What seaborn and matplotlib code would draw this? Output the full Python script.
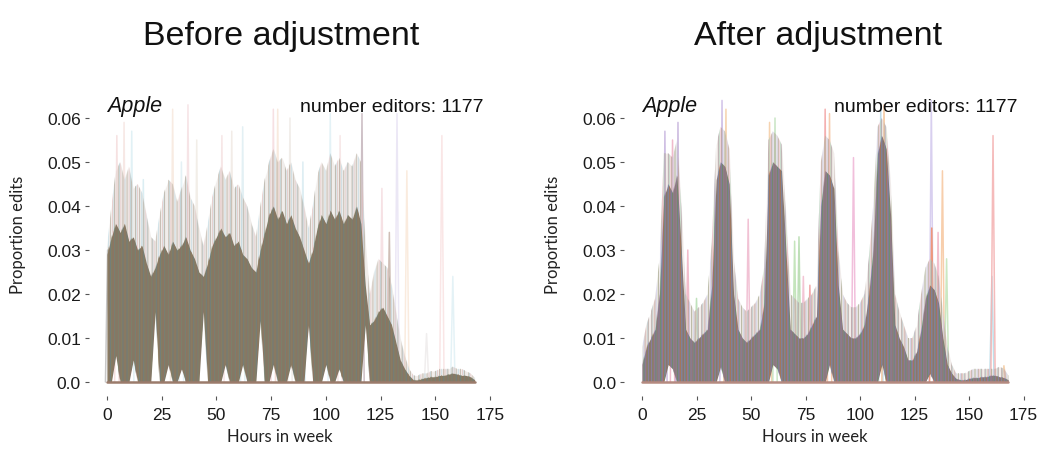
import matplotlib

matplotlib.use("Agg")
import matplotlib.pyplot as plt
import numpy as np
import pandas as pd
import seaborn as sns

W, H = 1047, 452

# hours in week, sampled every 2 hours (0 .. 168)
HOURS = np.arange(0, 170, 2)

# --- before adjustment -------------------------------------------------------
# top of the dense mass of editor lines
before_core = [
    0.029, 0.033, 0.036, 0.034, 0.036, 0.032, 0.033, 0.030, 0.031, 0.027,
    0.024, 0.026, 0.029, 0.031, 0.029, 0.032, 0.030, 0.031, 0.033, 0.030,
    0.028, 0.025, 0.024, 0.027, 0.031, 0.033, 0.035, 0.033, 0.034, 0.031,
    0.032, 0.029, 0.028, 0.026, 0.025, 0.030, 0.034, 0.038, 0.040, 0.037,
    0.039, 0.036, 0.038, 0.035, 0.033, 0.030, 0.027, 0.030, 0.035, 0.038,
    0.036, 0.039, 0.037, 0.039, 0.036, 0.038, 0.037, 0.040, 0.036, 0.022,
    0.013, 0.014, 0.016, 0.017, 0.015, 0.013, 0.009, 0.005, 0.003, 0.0015,
    0.0005, 0.0005, 0.0008, 0.001, 0.0012, 0.0012, 0.0015, 0.0015, 0.0018, 0.002,
    0.0018, 0.0015, 0.0015, 0.0012, 0.0005,
]
# top of the thinner, paler band above it
before_fringe = [
    0.031, 0.040, 0.048, 0.050, 0.046, 0.049, 0.044, 0.045, 0.043, 0.038,
    0.033, 0.032, 0.038, 0.043, 0.046, 0.045, 0.041, 0.044, 0.047, 0.042,
    0.040, 0.035, 0.031, 0.036, 0.042, 0.046, 0.049, 0.046, 0.048, 0.044,
    0.045, 0.042, 0.040, 0.036, 0.033, 0.040, 0.046, 0.050, 0.053, 0.050,
    0.051, 0.048, 0.050, 0.046, 0.044, 0.040, 0.035, 0.040, 0.047, 0.050,
    0.048, 0.052, 0.049, 0.051, 0.048, 0.050, 0.049, 0.052, 0.050, 0.032,
    0.020, 0.025, 0.028, 0.027, 0.026, 0.022, 0.016, 0.010, 0.006, 0.003,
    0.0015, 0.0015, 0.002, 0.002, 0.0025, 0.0025, 0.003, 0.003, 0.003, 0.0035,
    0.003, 0.003, 0.0025, 0.002, 0.001,
]
# lowest line value (white notches at the bottom)
before_floor = [
    0, 0, 0.006, 0, 0, 0, 0.005, 0, 0, 0,
    0, 0.016, 0, 0, 0.004, 0, 0, 0.003, 0, 0,
    0, 0, 0.016, 0, 0, 0, 0, 0.004, 0, 0,
    0, 0.004, 0, 0, 0, 0.014, 0, 0, 0.004, 0,
    0, 0, 0.004, 0, 0, 0, 0.013, 0, 0, 0,
    0.004, 0, 0, 0.003, 0, 0, 0, 0, 0, 0.013,
    0, 0, 0, 0, 0, 0, 0, 0, 0, 0,
    0, 0, 0, 0, 0, 0, 0, 0, 0, 0,
    0, 0, 0, 0, 0,
]
# single editors sticking out above the mass
before_spike_hours = [0.3, 4.5, 7.8, 11.3, 16.6, 30, 34, 37, 41, 52.5, 57, 62, 76, 78,
                      83.6, 89.5, 102, 106.5, 116.5, 125.6, 129, 132.5, 137, 146, 153, 158]
before_spike_heights = [0.030, 0.056, 0.059, 0.057, 0.046, 0.062, 0.050, 0.063, 0.055, 0.056,
                        0.057, 0.058, 0.062, 0.062, 0.060, 0.050, 0.061, 0.056, 0.061, 0.044,
                        0.034, 0.061, 0.048, 0.011, 0.056, 0.024]
before_spike_colors = ["#9a9a9a", "#efc9c9", "#f1d6d0", "#c9e6ee", "#bfe0ea", "#f3dccb",
                       "#cfe6ee", "#f0cfd3", "#e9e1d6", "#f0d2d2", "#e8ddd5", "#cde5ec",
                       "#f0c8cc", "#f3d9c4", "#e6dfd8", "#c3e0ea", "#cfe9f0", "#f1d5d5",
                       "#a48b96", "#efc9cf", "#a88a7a", "#dcd4ee", "#f6dcc4", "#e5e0e0",
                       "#f6d2d2", "#cfe8f0"]

# --- after adjustment --------------------------------------------------------
after_core = [
    0.004, 0.008, 0.010, 0.012, 0.020, 0.042, 0.045, 0.043, 0.047, 0.030,
    0.012, 0.010, 0.009, 0.010, 0.011, 0.012, 0.022, 0.046, 0.050, 0.049,
    0.045, 0.020, 0.012, 0.010, 0.009, 0.010, 0.011, 0.012, 0.018, 0.047,
    0.050, 0.049, 0.048, 0.030, 0.012, 0.011, 0.010, 0.010, 0.011, 0.013,
    0.015, 0.040, 0.048, 0.047, 0.044, 0.022, 0.012, 0.011, 0.010, 0.010,
    0.011, 0.013, 0.020, 0.030, 0.052, 0.056, 0.053, 0.038, 0.013, 0.010,
    0.008, 0.005, 0.005, 0.007, 0.012, 0.019, 0.022, 0.021, 0.018, 0.010,
    0.004, 0.002, 0.0008, 0.0005, 0.0005, 0.0008, 0.001, 0.001, 0.0012, 0.0012,
    0.0015, 0.0015, 0.0012, 0.001, 0.0005,
]
after_fringe = [
    0.008, 0.013, 0.016, 0.019, 0.028, 0.052, 0.052, 0.051, 0.055, 0.040,
    0.020, 0.018, 0.016, 0.017, 0.018, 0.020, 0.032, 0.054, 0.058, 0.057,
    0.053, 0.028, 0.019, 0.017, 0.016, 0.017, 0.018, 0.020, 0.026, 0.055,
    0.057, 0.056, 0.054, 0.038, 0.020, 0.019, 0.018, 0.018, 0.019, 0.020,
    0.022, 0.050, 0.056, 0.055, 0.052, 0.030, 0.020, 0.018, 0.017, 0.017,
    0.018, 0.020, 0.028, 0.040, 0.058, 0.060, 0.058, 0.045, 0.020, 0.016,
    0.013, 0.010, 0.010, 0.013, 0.020, 0.026, 0.028, 0.027, 0.024, 0.016,
    0.008, 0.004, 0.002, 0.002, 0.002, 0.0025, 0.003, 0.003, 0.003, 0.003,
    0.003, 0.003, 0.0035, 0.003, 0.0015,
]
after_floor = [
    0, 0, 0, 0, 0, 0, 0.004, 0.003, 0, 0,
    0, 0, 0, 0, 0, 0, 0, 0, 0.0035, 0,
    0, 0, 0, 0, 0, 0, 0, 0, 0, 0,
    0.004, 0.003, 0, 0, 0, 0, 0, 0, 0, 0,
    0, 0, 0, 0.004, 0, 0, 0, 0, 0, 0,
    0, 0, 0, 0, 0, 0.004, 0, 0, 0, 0,
    0, 0, 0, 0, 0, 0, 0.002, 0, 0, 0,
    0, 0, 0, 0, 0, 0, 0, 0, 0, 0,
    0, 0, 0, 0, 0,
]
after_spike_hours = [10.5, 14, 16.5, 21, 25, 36.7, 38.5, 48.7, 58.5, 61, 70, 72, 74, 77,
                     84, 86, 97, 109.5, 111, 132.7, 132.9, 135.8, 137.8, 139.7, 160.5, 161, 166]
after_spike_heights = [0.057, 0.055, 0.059, 0.030, 0.019, 0.064, 0.062, 0.037, 0.059, 0.060,
                       0.032, 0.033, 0.024, 0.022, 0.062, 0.061, 0.051, 0.062, 0.063, 0.064,
                       0.035, 0.034, 0.048, 0.028, 0.024, 0.056, 0.0037]
after_spike_colors = ["#c9b7e0", "#eeb3c6", "#c8b5dd", "#f2b6c6", "#b9dfb5", "#cdbde6",
                      "#f5d0a8", "#f0bcd0", "#f5cfa8", "#c5e3c0", "#bfe3b5", "#b7dcb0",
                      "#f2bfd0", "#f0a0a0", "#f3a8a8", "#f5c7a6", "#f0b8d8", "#b7d8e8",
                      "#f4c49a", "#d4caee", "#f08f6e", "#f2b8c8", "#f7c9a3", "#c6e6bc",
                      "#b8dce8", "#f4b4b4", "#f5cfa8"]

panels = [
    dict(title="Before adjustment", core=before_core, fringe=before_fringe,
         floor=before_floor, spike_h=before_spike_hours, spike_v=before_spike_heights,
         spike_c=before_spike_colors, spike_alpha=0.55,
         face="#857765", fringe_face="#d6cdc6", base="#9b7b6b",
         streaks=["#9a725f", "#64868a", "#868460"],
         fringe_streaks=["#e2bcbc", "#b4d6e2", "#a89a88"],
         box=(88.6, 493.1), title_x=281.5, ylab_x=18, xlab_x=280),
    dict(title="After adjustment", core=after_core, fringe=after_fringe,
         floor=after_floor, spike_h=after_spike_hours, spike_v=after_spike_heights,
         spike_c=after_spike_colors, spike_alpha=0.9,
         face="#87796a", fringe_face="#dacdc8", base="#b58a80",
         streaks=["#cc6a55", "#58a064", "#6a88c0", "#a07aa8"],
         fringe_streaks=["#eeb1bd", "#b3d6b0", "#bfbfe6", "#a89484"],
         box=(623.7, 1026.6), title_x=818.5, ylab_x=553, xlab_x=815),
]

sns.set_theme(style="white")
plt.rcParams["font.family"] = ["Liberation Sans", "DejaVu Sans"]
plt.rcParams["hatch.linewidth"] = 0.7

fig = plt.figure(figsize=(W / 100, H / 100), dpi=100)
fig.patch.set_facecolor("white")

ax_top, ax_bottom = 83.8, 397.1
for p in panels:
    left, right = p["box"]
    ax = fig.add_axes([left / W, 1 - ax_bottom / H, (right - left) / W, (ax_bottom - ax_top) / H])

    # single spikes, behind the mass
    rows = []
    for i, (h, v) in enumerate(zip(p["spike_h"], p["spike_v"])):
        rows += [(i, h - 1.0, 0.0), (i, h, v), (i, h + 1.0, 0.0)]
    spikes = pd.DataFrame(rows, columns=["spike", "hour", "value"])
    sns.lineplot(data=spikes, x="hour", y="value", hue="spike", units="spike",
                 estimator=None, palette=p["spike_c"], legend=False, lw=1.1,
                 alpha=p["spike_alpha"], sort=False, ax=ax, zorder=1)

    core = np.asarray(p["core"])
    fringe = np.asarray(p["fringe"])
    floor = np.asarray(p["floor"])

    # pale band of fewer editors above the dense mass
    ax.fill_between(HOURS, core, fringe, facecolor=p["fringe_face"], alpha=0.35,
                    lw=0, zorder=2)
    for k, c in enumerate(p["fringe_streaks"]):
        ax.fill_between(HOURS, core, fringe, facecolor="none", edgecolor=c,
                        hatch="|" * (2 + k), lw=0, alpha=0.6, zorder=2)

    # dense mass
    ax.fill_between(HOURS, floor, core, facecolor=p["face"], lw=0, zorder=3)
    for k, c in enumerate(p["streaks"]):
        ax.fill_between(HOURS, floor, core, facecolor="none", edgecolor=c,
                        hatch="|" * (3 + k), lw=0, alpha=0.6, zorder=3)

    # all editors with no edits in an hour
    sns.lineplot(x=HOURS, y=np.zeros_like(HOURS, dtype=float), color=p["base"],
                 lw=1.8, ax=ax, zorder=4)

    ax.set_xlim(-8.4, 176.4)
    ax.set_ylim(-0.0032, 0.068)
    ax.set_xticks([0, 25, 50, 75, 100, 125, 150, 175])
    ax.set_yticks([0, 0.01, 0.02, 0.03, 0.04, 0.05, 0.06])
    ax.set_yticklabels(["0.0", "0.01", "0.02", "0.03", "0.04", "0.05", "0.06"])
    for s in ax.spines.values():
        s.set_visible(False)
    ax.grid(False)
    ax.tick_params(axis="both", which="both", direction="out", length=3, width=0.8,
                   color="#555555", labelsize=12.5, labelcolor="#1a1a1a")
    ax.tick_params(axis="x", pad=4.5, bottom=True)
    ax.tick_params(axis="y", pad=2.5, left=True)
    ax.set_xlabel("")
    ax.set_ylabel("")

    ax.text(0, 0.0616, "Apple", style="italic", fontsize=15.5, ha="left",
            va="baseline", color="#111111")
    ax.text(172, 0.0616, "number editors: 1177", fontsize=14, ha="right",
            va="baseline", color="#111111")

    fig.text(p["title_x"] / W, 1 - 45 / H, p["title"], fontsize=24.5, ha="center",
             va="baseline", color="#111111")
    fig.text(p["xlab_x"] / W, 1 - 437 / H, "Hours in week", family=["Lato", "DejaVu Sans"],
             fontsize=12, ha="center", va="center", color="#222222")
    fig.text(p["ylab_x"] / W, 1 - 235 / H, "Proportion edits", family=["Lato", "DejaVu Sans"],
             fontsize=12, rotation=90, ha="center", va="center", color="#222222")

fig.savefig("out.png", dpi=100, facecolor="white")
